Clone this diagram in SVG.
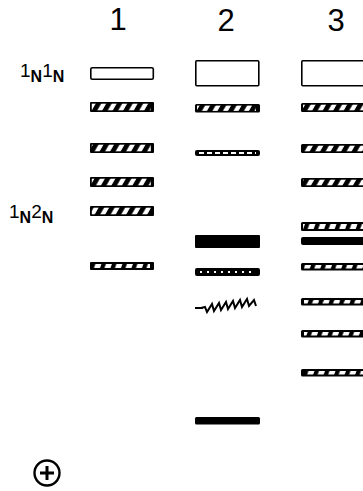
<svg xmlns="http://www.w3.org/2000/svg" width="363" height="491" viewBox="0 0 363 491">
<defs>
<pattern id="hatch" width="10.5" height="20" patternUnits="userSpaceOnUse" patternTransform="skewX(-30)">
<rect width="10.5" height="20" fill="#000"/>
<rect x="3.5" width="5" height="20" fill="#fff"/>
</pattern>
<pattern id="dash" width="10.5" height="20" patternUnits="userSpaceOnUse" patternTransform="skewX(-20)">
<rect width="10.5" height="20" fill="#000"/>
<rect x="2.5" width="6" height="20" rx="1" fill="#fff"/>
</pattern>
</defs>
<style>
.lab{font-family:"Liberation Sans",Arial,sans-serif;fill:#000}
.num{font-size:31px;font-weight:normal}
.big{font-size:19px}
.sub{font-size:16px;font-weight:bold}
.box{fill:#fff;stroke:#000;stroke-width:1.6}
.blk{fill:#000}
</style>
<g id="lane-labels">
<text class="lab num" x="118" y="30" text-anchor="middle">1</text>
<text class="lab num" x="226" y="31" text-anchor="middle">2</text>
<text class="lab num" x="336" y="31" text-anchor="middle">3</text>
</g>
<g id="label-1N1N">
<text class="lab" x="20" y="77"><tspan class="big">1</tspan><tspan class="sub" dy="5">N</tspan><tspan class="big" dy="-5">1</tspan><tspan class="sub" dy="5">N</tspan></text>
</g>
<g id="label-1N2N">
<text class="lab" x="9" y="218"><tspan class="big">1</tspan><tspan class="sub" dy="5">N</tspan><tspan class="big" dy="-5">2</tspan><tspan class="sub" dy="5">N</tspan></text>
</g>
<g id="lane1">
<rect class="box" x="90.8" y="67.8" width="62.5" height="11.5" rx="1.5"/>
<rect class="blk" x="90" y="102" width="64" height="10" rx="1"/><rect x="91.8" y="103.7" width="59" height="6.6" fill="url(#hatch)"/>
<rect class="blk" x="90" y="143" width="64" height="10" rx="1"/><rect x="91.8" y="144.7" width="59" height="6.6" fill="url(#hatch)"/>
<rect class="blk" x="90" y="177" width="64" height="10" rx="1"/><rect x="91.8" y="178.7" width="59" height="6.6" fill="url(#hatch)"/>
<rect class="blk" x="90" y="206" width="64" height="10" rx="1"/><rect x="91.8" y="207.7" width="59" height="6.6" fill="url(#hatch)"/>
<rect class="blk" x="90" y="262" width="64" height="8" rx="1"/><rect x="93" y="264" width="57" height="4" fill="url(#dash)"/>
</g>
<g id="lane2">
<rect class="box" x="195.8" y="60.8" width="63" height="25" rx="1"/>
<rect class="blk" x="195" y="104" width="65" height="8.5" rx="1.5"/><rect x="197" y="105.6" width="59" height="5.3" fill="url(#hatch)"/>
<rect class="blk" x="195" y="150" width="65" height="6" rx="2"/><line x1="199" y1="153" x2="256" y2="153" stroke="#fff" stroke-width="2" stroke-dasharray="5 3"/>
<rect class="blk" x="195" y="235" width="65" height="13" rx="1"/>
<rect class="blk" x="195" y="268" width="65" height="8" rx="2"/><line x1="200" y1="272" x2="256" y2="272" stroke="#fff" stroke-width="2" stroke-dasharray="2 5"/>
<path d="M195 308 H203 M201 308 l4 -1 l2 5 l5 -8 l2 7 l5 -8 l2 7 l5 -8 l2 7 l5 -8 l2 7 l5 -8 l2 7 l5 -8 l2 7 l5 -6 l2 6" fill="none" stroke="#000" stroke-width="2" stroke-linejoin="miter"/>
<rect class="blk" x="195" y="417" width="65" height="7.5" rx="1.5"/>
</g>
<g id="lane3">
<rect class="box" x="301.8" y="60.8" width="64" height="25" rx="1"/>
<rect class="blk" x="301" y="103" width="66" height="9" rx="1.5"/><rect x="303" y="104.7" width="64" height="5.6" fill="url(#hatch)"/>
<rect class="blk" x="301" y="144" width="66" height="9" rx="1.5"/><rect x="303" y="145.7" width="64" height="5.6" fill="url(#hatch)"/>
<rect class="blk" x="301" y="178" width="66" height="9" rx="1.5"/><rect x="303" y="179.7" width="64" height="5.6" fill="url(#hatch)"/>
<rect class="blk" x="301" y="222" width="66" height="9" rx="1.5"/><rect x="303" y="224" width="64" height="5" fill="url(#dash)"/>
<rect class="blk" x="301" y="237" width="66" height="8" rx="2"/>
<rect class="blk" x="301" y="263" width="66" height="7.5" rx="1.5"/><rect x="304" y="265" width="63" height="3.5" fill="url(#dash)"/>
<rect class="blk" x="301" y="298" width="66" height="7.5" rx="1.5"/><rect x="304" y="300" width="63" height="3.5" fill="url(#dash)"/>
<rect class="blk" x="301" y="330" width="66" height="7.5" rx="1.5"/><rect x="304" y="332" width="63" height="3.5" fill="url(#dash)"/>
<rect class="blk" x="301" y="369" width="66" height="7.5" rx="1.5"/><rect x="304" y="371" width="63" height="3.5" fill="url(#dash)"/>
</g>
<g id="anode">
<circle cx="47" cy="473" r="12.5" fill="#fff" stroke="#000" stroke-width="2.4"/>
<path d="M47 466 V480 M40 473 H54" stroke="#000" stroke-width="3"/>
</g>
</svg>
